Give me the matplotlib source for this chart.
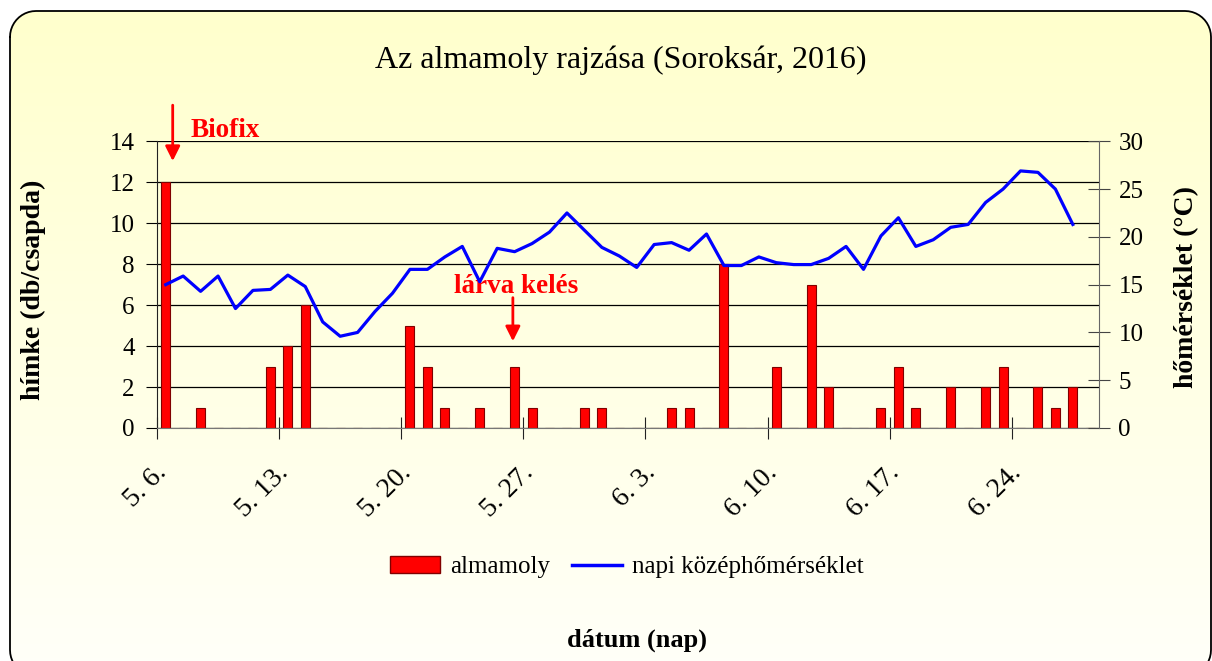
import numpy as np
import matplotlib
matplotlib.use("Agg")
import matplotlib.pyplot as plt
from matplotlib.patches import Polygon, Patch
from matplotlib.lines import Line2D

plt.rcParams['font.family'] = ['Liberation Serif', 'DejaVu Serif']

# daily data, 5.6. - 6.28. (54 days)
moths = [12, 0, 1, 0, 0, 0, 3, 4, 6, 0,
         0, 0, 0, 0, 5, 3, 1, 0, 1, 0,
         3, 1, 0, 0, 1, 1, 0, 0, 0, 1,
         1, 0, 8, 0, 0, 3, 0, 7, 2, 0,
         0, 1, 3, 1, 0, 2, 0, 2, 3, 0,
         2, 1, 2, 0]
temp = [15.0, 15.9, 14.3, 15.9, 12.5, 14.4, 14.5, 16.0, 14.8, 11.1,
        9.6, 10.0, 12.2, 14.1, 16.6, 16.6, 17.9, 19.0, 15.3, 18.8,
        18.45, 19.3, 20.5, 22.5, 20.7, 18.9, 18.0, 16.8, 19.2, 19.4,
        18.6, 20.3, 17.0, 17.0, 17.9, 17.3, 17.1, 17.1, 17.75, 19.0,
        16.6, 20.1, 22.0, 19.0, 19.7, 21.0, 21.3, 23.6, 25.0, 26.9,
        26.75, 25.0, 21.3, np.nan]
date_labels = ['5. 6.', '5. 13.', '5. 20.', '5. 27.',
               '6. 3.', '6. 10.', '6. 17.', '6. 24.']

days = np.arange(len(moths))

W, H = 1212, 661
fig = plt.figure(figsize=(W / 100, H / 100), dpi=100)
fig.patch.set_facecolor('white')


def rounded_box(x0, y0, x1, y1, r, n=12):
    # outline of a rounded rectangle (y grows downwards)
    pts = []
    corners = [(x0 + r, y0 + r, 180, 270), (x1 - r, y0 + r, 270, 360),
               (x1 - r, y1 - r, 0, 90), (x0 + r, y1 - r, 90, 180)]
    for cx, cy, a0, a1 in corners:
        a = np.radians(np.linspace(a0, a1, n))
        pts += list(zip(cx + r * np.cos(a), cy + r * np.sin(a)))
    pts.append(pts[0])
    return np.array(pts)


# background panel with rounded border
bg = fig.add_axes([0, 0, 1, 1])
bg.set_xlim(0, W)
bg.set_ylim(H, 0)
bg.axis('off')
grad = np.linspace(0, 1, 200)[:, None]
top = np.array([255, 255, 204]) / 255
bot = np.array([255, 255, 248]) / 255
img = top + (bot - top) * grad[..., None]
img = np.repeat(img, 2, axis=1)
im = bg.imshow(img, extent=[0, W, H, 0], aspect='auto', zorder=0)
box = rounded_box(10, 11, 1211, 676, 26)
clip = Polygon(box, closed=True, transform=bg.transData, fc='none', ec='none')
im.set_clip_path(clip)
bg.plot(box[:, 0], box[:, 1], color='black', lw=1.3, zorder=1, clip_on=False)

ax = fig.add_axes([157 / W, 1 - 428 / H, (1099 - 157) / W, (428 - 141.3) / H])
ax.set_facecolor('none')
ax.bar(days, moths, width=0.52, color='#ff0000', edgecolor='#800000', lw=0.8, zorder=2)
ax.set_xlim(-0.5, len(days) - 0.5)
ax.set_ylim(0, 14)
ax.set_yticks(range(0, 15, 2))
ax.grid(axis='y', color='black', lw=0.9)
ax.set_axisbelow(True)
for s in ['top', 'right']:
    ax.spines[s].set_visible(False)
ax.spines['left'].set_color('#222222')
ax.spines['bottom'].set_color('#777777')

ax.set_xticks(np.arange(-0.5, len(days) - 1, 7))
ax.set_xticklabels([])
ax.set_xticks(days[::7] + 0.35, minor=True)
ax.set_xticklabels(date_labels, minor=True, rotation=45, ha='right')
ax.tick_params(axis='x', which='major', direction='inout', length=16, color='#222222')
ax.tick_params(axis='x', which='minor', length=0, pad=23, labelsize=20)
ax.tick_params(axis='y', direction='out', length=8, pad=8, labelsize=18)

ax2 = ax.twinx()
ax2.plot(days, temp, color='#0000ff', lw=2.3, zorder=3)
ax2.set_ylim(0, 30)
ax2.set_yticks(range(0, 31, 5))
for s in ['top', 'left', 'bottom']:
    ax2.spines[s].set_visible(False)
ax2.spines['right'].set_color('#666666')
ax2.tick_params(axis='y', direction='inout', length=16, pad=6, labelsize=18, color='#444444')

# annotations
ax.annotate('', xy=(0.4, 12.9), xytext=(0.4, 15.9),
            arrowprops=dict(arrowstyle='-|>', color='red', lw=2, mutation_scale=22),
            annotation_clip=False)
ax.text(1.4, 14.55, 'Biofix', color='red', fontsize=19.5, fontweight='bold',
        ha='left', va='center', clip_on=False)
ax.annotate('', xy=(19.9, 4.1), xytext=(19.9, 6.5),
            arrowprops=dict(arrowstyle='-|>', color='red', lw=2, mutation_scale=22))
ax.text(20.1, 6.9, 'lárva kelés', color='red', fontsize=19.5, fontweight='bold',
        ha='center', va='center')

fig.text(621 / W, 1 - 60 / H, 'Az almamoly rajzása (Soroksár, 2016)', fontsize=23,
         ha='center', va='center')
fig.text(33 / W, 1 - 290 / H, 'hímke (db/csapda)', fontsize=20, fontweight='bold',
         rotation=90, ha='center', va='center')
fig.text(1187 / W, 1 - 287 / H, 'hőmérséklet (°C)', fontsize=20, fontweight='bold',
         rotation=90, ha='center', va='center')
fig.text(637 / W, 1 - 640 / H, 'dátum (nap)', fontsize=19, fontweight='bold',
         ha='center', va='center')

handles = [Patch(facecolor='#ff0000', edgecolor='#800000', label='almamoly'),
           Line2D([], [], color='#0000ff', lw=2.5, label='napi középhőmérséklet')]
fig.legend(handles=handles, loc='center', bbox_to_anchor=(627 / W, 1 - 567 / H),
           ncol=2, frameon=False, fontsize=18, handlelength=2.0, columnspacing=0.9,
           handletextpad=0.4)

fig.savefig('out.png', dpi=100, facecolor='white')
